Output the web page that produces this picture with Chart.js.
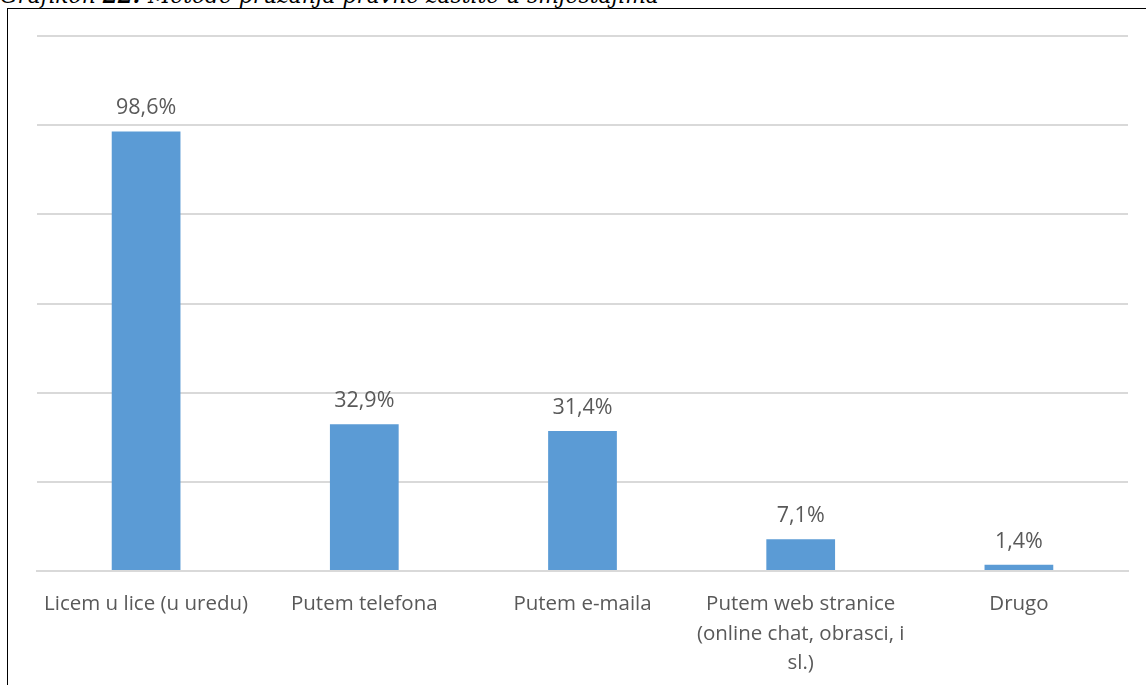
<!DOCTYPE html>
<html>
<head>
<meta charset="utf-8">
<script src="https://cdn.jsdelivr.net/npm/chart.js@4/dist/chart.umd.min.js"></script>
<style>
  html, body { margin: 0; padding: 0; background: #fff; overflow: hidden; }
  body { width: 1146px; height: 685px; position: relative; }
  #caption {
    position: absolute; left: 0; top: -17px; white-space: nowrap;
    font-family: "DejaVu Serif", serif; font-style: italic; font-size: 21.8px; color: #000;
  }
  #frame {
    position: absolute; left: 7px; top: 8px; width: 1150px; height: 690px;
    border: 1px solid #000; box-sizing: border-box;
  }
  #wrap { position: absolute; left: 8px; top: 9px; width: 1138px; height: 676px; }
</style>
</head>
<body>
<div id="caption">Grafikon <b>22:</b> Metode pružanja pravne zaštite u smještajima</div>
<div id="frame"></div>
<div id="wrap"><canvas id="chart"></canvas></div>
<script>
// categories and values
const categories = [
  'Licem u lice (u uredu)',
  'Putem telefona',
  'Putem e-maila',
  ['Putem web stranice', '(online chat, obrasci, i', 'sl.)'],
  'Drugo'
];
const shares = [98.6, 32.9, 31.4, 7.1, 1.4];
const yTicks = [0, 20, 40, 60, 80, 100, 120];

const textGrey = '#595959';
const barBlue = '#5b9bd5';

// draws the value above each bar
const valueLabels = {
  id: 'valueLabels',
  afterDatasetsDraw(chart) {
    const ctx = chart.ctx;
    const meta = chart.getDatasetMeta(0);
    ctx.save();
    ctx.font = '21.5px "Open Sans", sans-serif';
    ctx.fillStyle = textGrey;
    ctx.textAlign = 'center';
    ctx.textBaseline = 'alphabetic';
    meta.data.forEach((bar, i) => {
      const txt = shares[i].toFixed(1).replace('.', ',') + '%';
      ctx.fillText(txt, bar.x, bar.y - 17);
    });
    ctx.restore();
  }
};

new Chart(document.getElementById('chart'), {
  type: 'bar',
  data: {
    labels: categories,
    datasets: [{
      data: shares,
      backgroundColor: barBlue,
      barPercentage: 0.315,
      categoryPercentage: 1
    }]
  },
  options: {
    responsive: true,
    maintainAspectRatio: false,
    animation: false,
    layout: { padding: { left: 29, right: 18, top: 27, bottom: 0 } },
    plugins: {
      legend: { display: false },
      tooltip: { enabled: false }
    },
    scales: {
      x: {
        grid: { display: false },
        border: { color: '#d9d9d9', width: 2 },
        ticks: {
          color: textGrey,
          font: { family: '"Open Sans", sans-serif', size: 20.5, lineHeight: 1.42 },
          padding: 11,
          maxRotation: 0,
          autoSkip: false
        },
        afterFit(scale) { scale.height = 114; }
      },
      y: {
        min: 0,
        max: 120,
        afterBuildTicks(scale) { scale.ticks = yTicks.map(v => ({ value: v })); },
        ticks: { display: false },
        grid: { color: '#d9d9d9', lineWidth: 2, drawTicks: false },
        border: { display: false },
        afterFit(scale) { scale.width = 0; }
      }
    }
  },
  plugins: [valueLabels]
});
</script>
</body>
</html>
